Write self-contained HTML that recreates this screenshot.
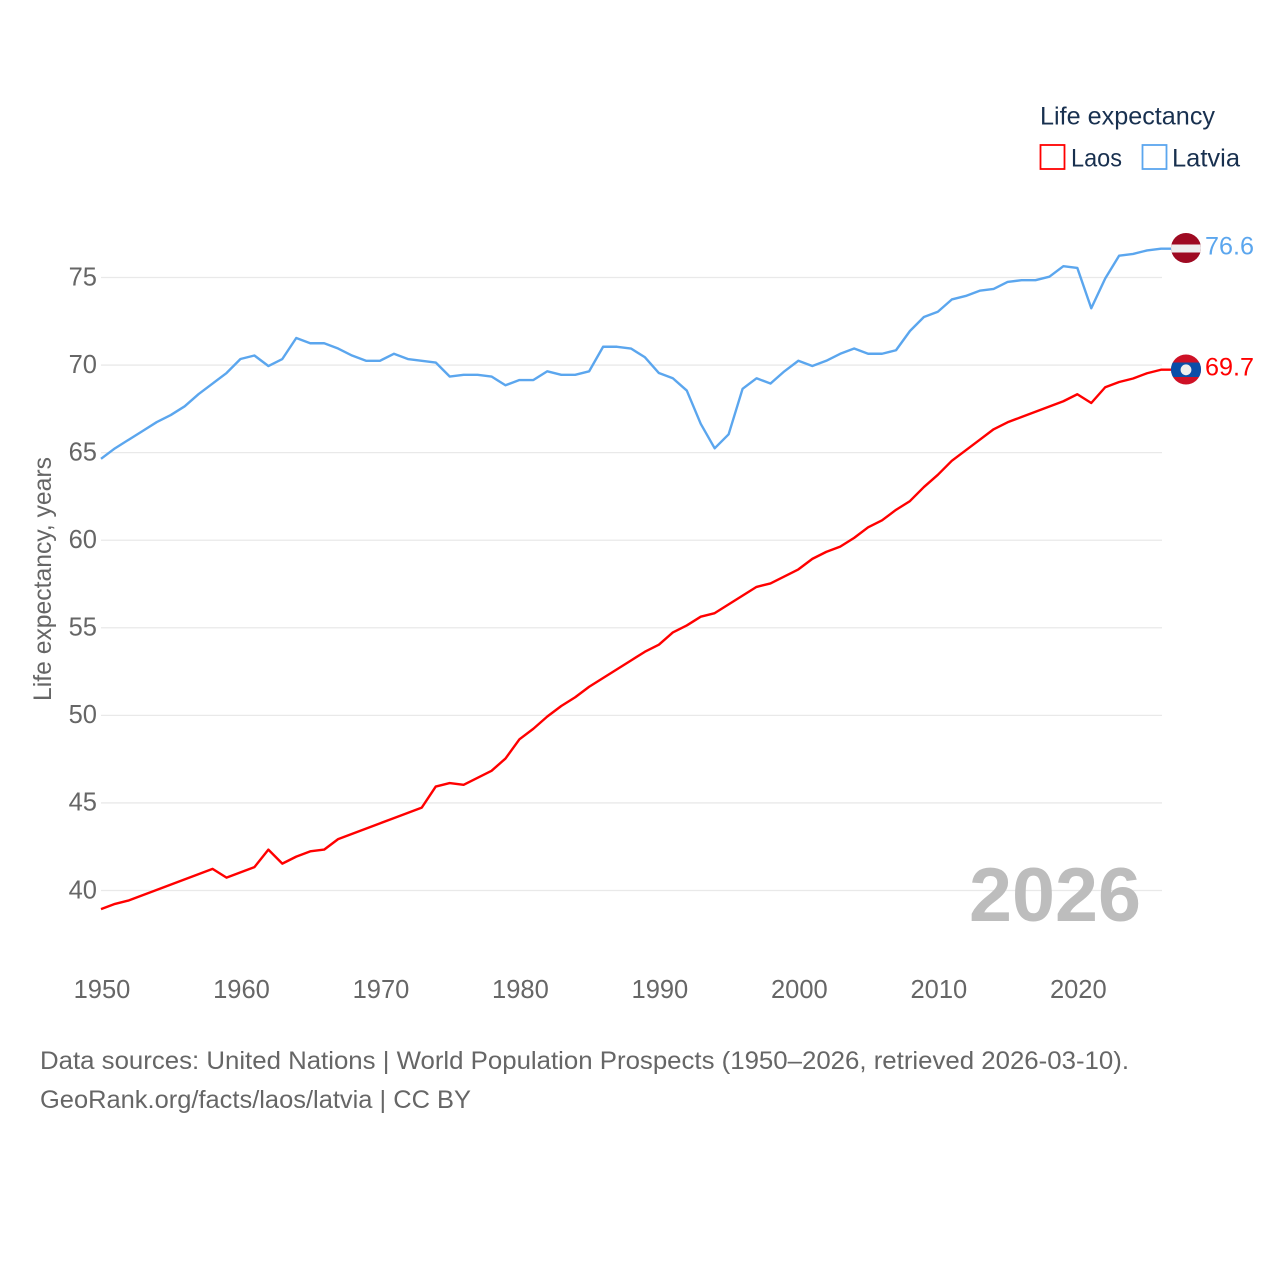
<!DOCTYPE html>
<html lang="en">
<head>
<meta charset="utf-8">
<title>Life expectancy: Laos and Latvia</title>
<style>
html,body{margin:0;padding:0;background:#fff;width:1280px;height:1280px;overflow:hidden}
svg{display:block}
text{font-family:"Liberation Sans",sans-serif}
</style>
</head>
<body>
<svg id="chart" width="1280" height="1280" viewBox="0 0 1280 1280" xmlns="http://www.w3.org/2000/svg">
  <defs>
    <clipPath id="flag-clip-latvia"><circle cx="1186" cy="248" r="15"/></clipPath>
    <clipPath id="flag-clip-laos"><circle cx="1186" cy="369.5" r="15"/></clipPath>
  </defs>
  <g id="grid"></g>
  <g id="y-ticks"></g>
  <g id="x-ticks"></g>
  <text transform="translate(51,701) rotate(-90)" font-size="25" fill="#666" textLength="244" lengthAdjust="spacingAndGlyphs">Life expectancy, years</text>
  <text x="969" y="921" font-size="76" font-weight="700" fill="#bdbdbd" textLength="172" lengthAdjust="spacingAndGlyphs">2026</text>
  <path id="line-latvia" transform="translate(0,-0.8)" fill="none" stroke="#5ba6ee" stroke-width="2.4" stroke-linejoin="round"/>
  <path id="line-laos" transform="translate(0,-0.6)" fill="none" stroke="#ff0000" stroke-width="2.4" stroke-linejoin="round"/>
  <g clip-path="url(#flag-clip-latvia)">
    <rect x="1171" y="233" width="30" height="30" fill="#9e0a22"/>
    <rect x="1171" y="244.5" width="30" height="8" fill="#eeeeee"/>
  </g>
  <g clip-path="url(#flag-clip-laos)">
    <rect x="1171" y="354" width="30" height="31" fill="#ce1126"/>
    <rect x="1171" y="362.5" width="30" height="14.5" fill="#0a4ea8"/>
    <circle cx="1186" cy="369.8" r="5.4" fill="#eeeeee"/>
  </g>
  <text x="1205" y="254.5" font-size="25" fill="#5ba6ee" textLength="49" lengthAdjust="spacingAndGlyphs">76.6</text>
  <text x="1205" y="375.5" font-size="25" fill="#ff0000" textLength="49" lengthAdjust="spacingAndGlyphs">69.7</text>

  <g>
    <text x="1040" y="124.5" font-size="25" fill="#18304f" textLength="175" lengthAdjust="spacingAndGlyphs">Life expectancy</text>
    <g>
      <rect x="1040.5" y="145" width="24" height="24" fill="#fff" stroke="#ff0000" stroke-width="1.8"/>
      <text x="1071" y="166.5" font-size="25" fill="#18304f" textLength="51" lengthAdjust="spacingAndGlyphs">Laos</text>
    </g>
    <g>
      <rect x="1142.5" y="145" width="24" height="24" fill="#fff" stroke="#5ba6ee" stroke-width="1.8"/>
      <text x="1172" y="166.5" font-size="25" fill="#18304f" textLength="68" lengthAdjust="spacingAndGlyphs">Latvia</text>
    </g>
  </g>

  <text x="40" y="1069" font-size="25" fill="#666" textLength="1089" lengthAdjust="spacingAndGlyphs">Data sources: United Nations | World Population Prospects (1950–2026, retrieved 2026-03-10).</text>
  <text x="40" y="1108" font-size="25" fill="#666" textLength="431" lengthAdjust="spacingAndGlyphs">GeoRank.org/facts/laos/latvia | CC BY</text>
</svg>
<script>
const startYear = 1950;
const endYear = 2026;
const yTickValues = [40, 45, 50, 55, 60, 65, 70, 75];
const xTickValues = [1950, 1960, 1970, 1980, 1990, 2000, 2010, 2020];
const latviaValues = [
  64.6, 65.2, 65.7, 66.2, 66.7, 67.1, 67.6, 68.3, 68.9, 69.5,
  70.3, 70.5, 69.9, 70.3, 71.5, 71.2, 71.2, 70.9, 70.5, 70.2,
  70.2, 70.6, 70.3, 70.2, 70.1, 69.3, 69.4, 69.4, 69.3, 68.8,
  69.1, 69.1, 69.6, 69.4, 69.4, 69.6, 71.0, 71.0, 70.9, 70.4,
  69.5, 69.2, 68.5, 66.6, 65.2, 66.0, 68.6, 69.2, 68.9, 69.6,
  70.2, 69.9, 70.2, 70.6, 70.9, 70.6, 70.6, 70.8, 71.9, 72.7,
  73.0, 73.7, 73.9, 74.2, 74.3, 74.7, 74.8, 74.8, 75.0, 75.6,
  75.5, 73.2, 74.9, 76.2, 76.3, 76.5, 76.6
];
const laosValues = [
  38.9, 39.2, 39.4, 39.7, 40.0, 40.3, 40.6, 40.9, 41.2, 40.7,
  41.0, 41.3, 42.3, 41.5, 41.9, 42.2, 42.3, 42.9, 43.2, 43.5,
  43.8, 44.1, 44.4, 44.7, 45.9, 46.1, 46.0, 46.4, 46.8, 47.5,
  48.6, 49.2, 49.9, 50.5, 51.0, 51.6, 52.1, 52.6, 53.1, 53.6,
  54.0, 54.7, 55.1, 55.6, 55.8, 56.3, 56.8, 57.3, 57.5, 57.9,
  58.3, 58.9, 59.3, 59.6, 60.1, 60.7, 61.1, 61.7, 62.2, 63.0,
  63.7, 64.5, 65.1, 65.7, 66.3, 66.7, 67.0, 67.3, 67.6, 67.9,
  68.3, 67.8, 68.7, 69.0, 69.2, 69.5, 69.7
];

const NS = 'http://www.w3.org/2000/svg';
function xScale(year) {
  return 101 + (year - 1950) * (1161 - 101) / 76;
}
function yScale(value) {
  return 890.5 - (value - 40) * (890.5 - 277.5) / 35;
}
function linePath(values) {
  const parts = values.map(function (v, i) {
    return (i ? 'L' : 'M') + xScale(startYear + i).toFixed(2) + ' ' + yScale(v).toFixed(2);
  });
  const last = values[values.length - 1];
  parts.push('L1172 ' + yScale(last).toFixed(2));
  return parts.join('');
}

const gridGroup = document.getElementById('grid');
const yGroup = document.getElementById('y-ticks');
const xGroup = document.getElementById('x-ticks');

yTickValues.forEach(function (v) {
  const line = document.createElementNS(NS, 'line');
  
  
  line.setAttribute('x1', xScale(startYear));
  line.setAttribute('x2', '1162');
  line.setAttribute('y1', yScale(v));
  line.setAttribute('y2', yScale(v));
  line.setAttribute('stroke', '#e9e9e9');
  line.setAttribute('stroke-width', '1.3');
  gridGroup.appendChild(line);

  const label = document.createElementNS(NS, 'text');
  
  
  label.setAttribute('x', '97');
  label.setAttribute('y', yScale(v) + 7.8);
  label.setAttribute('text-anchor', 'end');
  label.setAttribute('font-size', '25.5');
  label.setAttribute('fill', '#666');
  label.textContent = String(v);
  yGroup.appendChild(label);
});

xTickValues.forEach(function (year) {
  const label = document.createElementNS(NS, 'text');
  
  
  label.setAttribute('x', xScale(year) + 1);
  label.setAttribute('y', '998');
  label.setAttribute('text-anchor', 'middle');
  label.setAttribute('font-size', '25.5');
  label.setAttribute('fill', '#666');
  label.textContent = String(year);
  xGroup.appendChild(label);
});

document.getElementById('line-latvia').setAttribute('d', linePath(latviaValues));
document.getElementById('line-laos').setAttribute('d', linePath(laosValues));
</script>
</body>
</html>
